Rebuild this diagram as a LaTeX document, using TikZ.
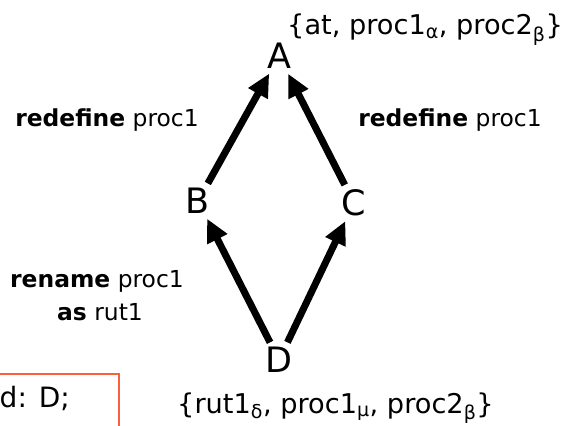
\documentclass[tikz,border=0pt]{standalone}
\usepackage{fontspec}
\setmainfont{DejaVu Sans}
\usetikzlibrary{arrows.meta}
\definecolor{boxred}{RGB}{250,96,64}

\begin{document}
\begin{tikzpicture}[
  x=1pt,y=-1pt,
  vert/.style={font=\fontsize{35}{40}\selectfont,inner sep=2pt},
  edge/.style={line width=7pt,draw=black,-{Triangle[length=23pt,width=21pt]},
               shorten >=3pt,shorten <=3pt},
  lbl/.style={font=\fontsize{23.4}{28}\selectfont,inner sep=0pt,anchor=base},
  set/.style={font=\fontsize{27.2}{32}\selectfont,inner sep=0pt,anchor=base west},
  note/.style={line width=1.1pt,draw=boxred}
]
\clip (0,0) rectangle (572,425);

% ================= lattice =================
\node[vert] (A) at (279,56)  {A};
\node[vert] (B) at (198,201) {B};
\node[vert] (C) at (354,203) {C};
\node[vert] (D) at (279,360) {D};

\draw[edge] (B) -- (A);
\draw[edge] (C) -- (A);
\draw[edge] (D) -- (B);
\draw[edge] (D) -- (C);

% ================= labels =================
\node[lbl] (redefL) at (107,126) {\textbf{redefine} proc1};
\node[lbl] (redefR) at (450,126) {\textbf{redefine} proc1};
\node[lbl] (renam) at (97,287) {\textbf{rename} proc1};
\node[lbl] (renas) at (100,320) {\textbf{as} rut1};

% ================= sets =================
\node[set] (setA) at (287,35)
  {\{at, proc1\textsubscript{α}, proc2\textsubscript{β}\}};
\node[set] (setD) at (177,413)
  {\{rut1\textsubscript{δ}, proc1\textsubscript{μ}, proc2\textsubscript{β}\}};

% ================= side box =================
\draw[note] (-10,374) rectangle (119,450);
\node[set,anchor=base east,font=\fontsize{28}{32}\selectfont] (boxtxt) at (70,407) {d: D;};

\end{tikzpicture}
\end{document}
